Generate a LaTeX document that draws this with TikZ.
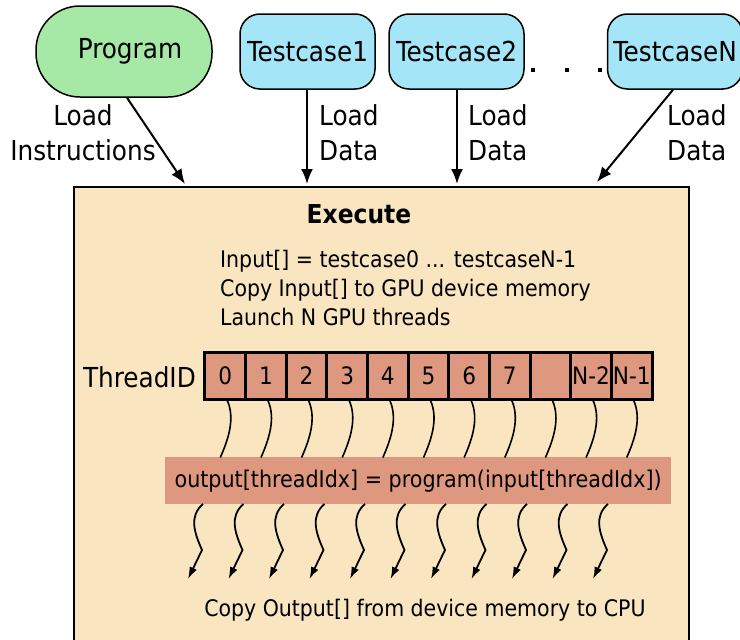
\documentclass[tikz,border=0pt]{standalone}
\usepackage{fontspec}
\setmainfont{DejaVu Sans Condensed}
\usetikzlibrary{arrows.meta,calc}
\definecolor{progG}{HTML}{A6E8A6}
\definecolor{tcB}{HTML}{A4E6F8}
\definecolor{wheatbg}{HTML}{F9E5C0}
\definecolor{salmon}{HTML}{DE987F}
\tikzset{
  progbox/.style={draw=black,line width=1.5pt,fill=progG,rounded corners=44pt,minimum width=176pt,minimum height=91pt,inner sep=0pt,font=\fontsize{27.5}{30}\selectfont},
  tcbox/.style={draw=black,line width=1.5pt,fill=tcB,rounded corners=20pt,minimum width=135pt,minimum height=75pt,inner sep=0pt,font=\fontsize{27.5}{30}\selectfont},
  loadarrow/.style={line width=2pt,-{Latex[length=15pt,width=12pt]}},
  lbl/.style={font=\fontsize{27.5}{35}\selectfont,inner sep=0pt},
  body/.style={font=\fontsize{22.8}{29}\selectfont,inner sep=0pt},
  cell/.style={draw=black,line width=3pt,fill=salmon,minimum width=40.64pt,minimum height=47pt,inner sep=0pt,font=\fontsize{24}{24}\selectfont},
  wire/.style={line width=1.6pt},
  outarrow/.style={line width=1.8pt,-{Latex[length=12pt,width=8pt]}}
}
\begin{document}
\begin{tikzpicture}[x=1pt,y=-1pt]
\useasboundingbox (0,0) rectangle (740,640);
% execute box
\node[draw=black,line width=1.5pt,fill=wheatbg,minimum width=615pt,minimum height=470pt,anchor=north west,inner sep=0pt] (exe) at (73,186) {};
% top nodes
\node[progbox] (prog) at (124,51.5) {\hspace*{12pt}Program};
\node[tcbox] (tc1) at (307.5,51.5) {Testcase1};
\node[tcbox] (tc2) at (456.5,51.5) {Testcase2};
\node[tcbox] (tcN) at (675,51.5) {TestcaseN};
\foreach \x/\n in {533/d1,567/d2,600/d3} \node[fill=black,inner sep=0pt,minimum size=4pt] (\n) at (\x,70) {};
% arrows
\coordinate (a0) at (185,184);
\coordinate (a1) at (307,184);
\coordinate (a2) at (457,184);
\coordinate (aN) at (597,182);
\draw[loadarrow] (prog.south) ++(3,0) coordinate (ps) -- (a0);
\draw[loadarrow] (tc1.south -| a1) -- (a1);
\draw[loadarrow] (tc2.south -| a2) -- (a2);
\draw[loadarrow] ($(tcN.south)+(-2,0)$) coordinate (ns) -- (aN);
\node[lbl,align=center] (l0) at (83,133) {Load\\Instructions};
\node[lbl,align=left,anchor=west] (l1) at (319,133) {Load\\Data};
\node[lbl,align=left,anchor=west] (l2) at (468,133) {Load\\Data};
\node[lbl,align=left,anchor=west] (l3) at (667,133) {Load\\Data};
% execute text
\node[inner sep=0pt,font=\fontsize{26}{28}\selectfont\bfseries] (ex) at (359,214) {Execute};
\node[body,align=left,anchor=north west] (txt) at (220,250) {Input[] = testcase0 ... testcaseN-1\\Copy Input[] to GPU device memory\\Launch N GPU threads};
% thread IDs
\node[lbl,anchor=east] (tid) at (196,377) {ThreadID};
\foreach \t [count=\i from 0] in {0,1,2,3,4,5,6,7,{},N-2,N-1} {
  \node[cell] (c\i) at (225.3+40.64*\i,375.5) {\t};
}
% output bar
\node[fill=salmon,minimum width=506pt,minimum height=47pt,inner sep=0pt,anchor=north west,font=\fontsize{23}{24}\selectfont] (bar) at (165,457) {output[threadIdx] = program(input[threadIdx])};
% wires from cells to bar
\foreach \i in {0,...,10} {
  \coordinate (w\i) at ($(c\i.south)+(-5,57)$);
  \draw[wire] ($(c\i.south)+(2,0)$) .. controls +(8,18) and +(8,-18) .. (w\i);
}
% out arrows
\foreach \i in {0,...,10} {
  \coordinate (o\i) at (203+40.5*\i,504);
  \coordinate (p\i) at (188+40.5*\i,579);
  \draw[outarrow] (o\i) .. controls +(-14,12) and +(-8,-18) .. ($(o\i)+(-1,46)$) -- (p\i);
}
\node[body,font=\fontsize{22.8}{24}\selectfont] (copy) at (425,610) {Copy Output[] from device memory to CPU};
\end{tikzpicture}
\end{document}
